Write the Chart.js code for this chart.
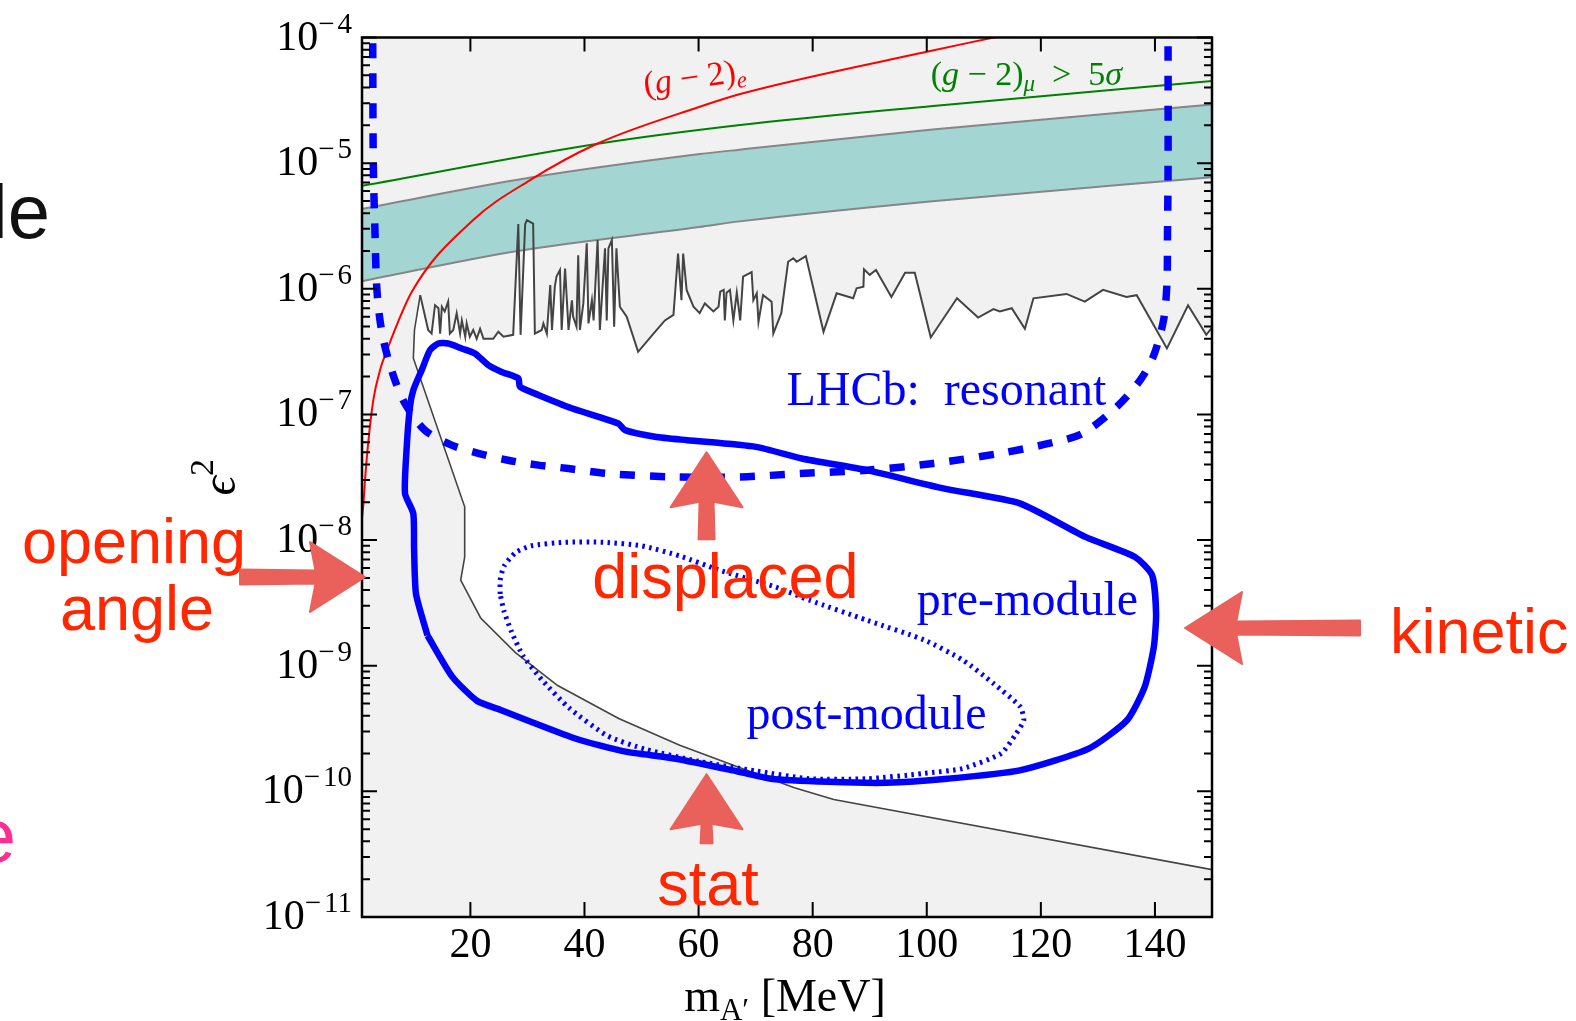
<!DOCTYPE html>
<html>
<head>
    <meta charset="utf-8">
    <title>LHCb dark photon reach</title>
    <script src="https://cdn.jsdelivr.net/npm/chart.js"></script>
    <style>
        html, body { margin: 0; padding: 0; background: #fff; }
        canvas { display: block; }
    </style>
</head>
<body>
    <canvas id="reachChart" width="1576" height="1021"></canvas>
    <script>
        // [m_A' in MeV, eps^2]

        // upper edge of the allowed region (prompt searches)
        const promptLimit = [
            [11.2, 8.9e-7], [12.6, 4.7e-7], [13.2, 4.4e-7], [13.8, 7.4e-7], [14.4, 7.0e-7], [14.7, 4.4e-7],
            [15.0, 7.2e-7], [15.5, 6.6e-7], [16.1, 7.9e-7], [16.4, 4.4e-7], [17.0, 4.7e-7], [17.6, 6.4e-7],
            [18.2, 4.4e-7], [18.5, 5.6e-7], [19.1, 4.15e-7], [19.35, 5.3e-7], [19.9, 4.15e-7], [20.5, 4.7e-7],
            [21.1, 4.0e-7], [21.7, 4.8e-7], [22.3, 4.0e-7], [24.0, 4.0e-7], [24.9, 4.55e-7], [25.8, 4.15e-7],
            [27.5, 4.3e-7], [28.4, 3.27e-6], [28.8, 4.3e-7], [29.6, 3.27e-6], [29.9, 3.52e-6], [31.0, 3.3e-6],
            [31.3, 4.4e-7], [32.5, 4.7e-7], [32.8, 5.3e-7], [33.4, 4.4e-7], [34.0, 1.07e-6], [34.3, 4.7e-7],
            [34.8, 1.04e-6], [35.1, 1.25e-6], [35.7, 1.41e-6], [36.0, 4.7e-7], [36.6, 1.45e-6], [37.2, 4.7e-7],
            [37.8, 8.1e-7], [38.0, 6.0e-7], [38.6, 5.0e-7], [38.9, 1.85e-6], [39.2, 4.7e-7], [39.8, 7.65e-7],
            [40.4, 2.3e-6], [40.7, 5.3e-7], [41.3, 8.1e-7], [41.6, 5.6e-7], [42.3, 2.44e-6], [42.7, 4.7e-7],
            [43.6, 2.1e-6], [43.9, 5.6e-7], [44.2, 2.1e-6], [44.8, 2.44e-6], [45.2, 5.0e-7], [45.6, 2.1e-6],
            [46.2, 7.2e-7], [47.4, 6.0e-7], [49.4, 3.15e-7], [52.1, 4.4e-7], [54.1, 5.6e-7], [55.6, 6.2e-7],
            [56.4, 1.91e-6], [57.0, 8.1e-7], [57.3, 1.91e-6], [57.9, 9.8e-7], [59.1, 7.2e-7], [60.2, 6.4e-7],
            [61.1, 7.65e-7], [62.6, 6.6e-7], [63.5, 7.2e-7], [63.8, 9.5e-7], [64.4, 9.8e-7], [64.6, 5.6e-7],
            [64.9, 9.3e-7], [65.5, 9.8e-7], [66.1, 5.6e-7], [66.7, 9.3e-7], [67.3, 5.6e-7], [67.8, 1.25e-6],
            [69.3, 1.36e-6], [69.6, 8.1e-7], [70.2, 9.2e-7], [70.5, 5.45e-7], [71.3, 8.9e-7], [72.8, 7.9e-7],
            [73.1, 4.4e-7], [74.5, 6.4e-7], [75.7, 1.64e-6], [76.6, 1.75e-6], [77.2, 1.64e-6], [78.8, 1.82e-6],
            [81.9, 4.55e-7], [84.2, 9.2e-7], [87.1, 8.4e-7], [87.7, 1.01e-6], [88.9, 1.04e-6], [89.0, 1.43e-6],
            [90.0, 1.29e-6], [91.1, 1.41e-6], [93.8, 8.6e-7], [96.2, 1.34e-6], [97.9, 1.34e-6], [100.7, 4.1e-7],
            [105.3, 8.4e-7], [109.0, 5.9e-7], [111.7, 6.9e-7], [112.8, 6.6e-7], [114.9, 7.0e-7], [117.2, 4.8e-7],
            [118.7, 8.4e-7], [124.5, 9.1e-7], [127.7, 7.9e-7], [130.9, 9.8e-7], [135.0, 8.6e-7], [136.8, 8.9e-7],
            [142.1, 3.35e-7], [145.8, 7.4e-7], [149.0, 4.3e-7], [150.0, 4.9e-7]
        ];

        // lower edge of the allowed region (beam dumps)
        const beamDump = [
            [11.2, 8.9e-7], [10.2, 4.7e-7], [10.0, 2.8e-7], [19.0, 1.84e-8], [19.0, 7.3e-9], [18.3, 4.8e-9],
            [21.8, 2.4e-9], [27.9, 1.27e-9], [35.3, 6.95e-10], [46.0, 3.8e-10], [56.7, 2.33e-10],
            [66.8, 1.57e-10], [76.8, 1.07e-10], [83.7, 8.6e-11], [150, 2.38e-11]
        ];

        // (g-2)_mu 2 sigma band
        const muonBandHigh = [[1, 4.33e-6], [30.3, 7.64e-6], [60.2, 1.18e-5], [67.2, 1.28e-5], [101, 1.85e-5], [150, 2.93e-5]];
        const muonBandLow = [[1, 1.15e-6], [28, 1.99e-6], [60.1, 3.1e-6], [67.2, 3.44e-6], [101, 4.98e-6], [150, 7.73e-6]];

        const gm2Muon5sigma = [[1, 6.6e-6], [42.1, 1.42e-5], [67.3, 2.01e-5], [101.1, 2.85e-5], [150, 4.5e-5]];

        const gm2Electron = [
            [1.0, 1.5e-8], [1.23, 1.9e-8], [1.53, 3.0e-8], [2.05, 5.7e-8], [2.98, 1.3e-7], [4.16, 2.25e-7],
            [5.38, 3.25e-7], [9.76, 9.5e-7], [20.4, 3.5e-6], [30.4, 7.3e-6], [42.1, 1.42e-5],
            [60.2, 2.81e-5], [67.3, 3.55e-5], [100.0, 7.7e-5], [111.1, 9.86e-5], [116, 1.1e-4]
        ];

        // LHCb resonant search reach
        const lhcbResonant = [
            [2.88, 9.0e-5], [2.98, 1.0e-5], [3.28, 2.77e-6], [3.58, 1.04e-6], [4.16, 5.6e-7], [5.03, 3.45e-7],
            [6.78, 1.87e-7], [8.54, 1.22e-7], [12.0, 7.5e-8], [16.7, 5.7e-8], [21.4, 4.9e-8], [26.6, 4.32e-8],
            [31.9, 3.95e-8], [37.2, 3.71e-8], [43.9, 3.39e-8], [55.6, 3.18e-8], [67.3, 3.18e-8], [77.8, 3.39e-8],
            [89.5, 3.6e-8], [101.1, 4.07e-8], [112.8, 4.9e-8], [121.6, 5.9e-8], [127.4, 7.1e-8], [133.3, 1.15e-7],
            [137.4, 1.87e-7], [139.7, 2.88e-7], [141.5, 5.6e-7], [142.1, 1.1e-6], [142.2, 2.76e-6],
            [142.3, 9.4e-6], [142.3, 8.5e-5]
        ];

        // displaced, pre-module contour (closed)
        const preModule = [
            [12.48, 1.74e-9], [10.47, 3.72e-9], [10.13, 8.45e-9], [9.99, 1.63e-8], [8.54, 2.35e-8], [8.84, 5.52e-8],
            [9.41, 1.15e-7], [9.99, 1.56e-7], [11.46, 2.25e-7], [12.92, 3.25e-7], [14.37, 3.67e-7], [16.13, 3.67e-7],
            [18.48, 3.35e-7], [20.81, 3.06e-7], [23.14, 2.47e-7], [25.49, 2.18e-7], [28.4, 1.94e-7], [28.7, 1.66e-7],
            [31.9, 1.43e-7], [37.76, 1.12e-7], [45.93, 8.48e-8], [47.1, 7.5e-8], [52.36, 6.64e-8], [58.0, 6.24e-8],
            [70.06, 5.52e-8], [78.1, 4.46e-8], [89.5, 3.6e-8], [102.9, 2.58e-8], [116.3, 1.96e-8], [127.8, 1.06e-8],
            [136.5, 7.34e-9], [139.5, 5.25e-9], [140.2, 2.6e-9], [139.8, 1.41e-9], [138.2, 6.78e-10],
            [135.1, 3.68e-10], [128.4, 2.19e-10], [116.3, 1.47e-10], [103.6, 1.26e-10], [92.9, 1.17e-10],
            [82.8, 1.19e-10], [72.7, 1.26e-10], [66.0, 1.47e-10], [56.0, 1.82e-10], [46.7, 2.09e-10],
            [38.65, 2.61e-10], [30.6, 3.58e-10], [25.2, 4.47e-10], [21.2, 5.24e-10], [16.85, 8.15e-10]
        ];

        // displaced, post-module contour (closed)
        const postModule = [
            [25.22, 3.72e-9], [25.22, 4.8e-9], [25.89, 6.2e-9], [27.91, 7.94e-9], [30.6, 9.0e-9], [36.64, 9.6e-9],
            [43.35, 9.6e-9], [50.04, 9.0e-9], [56.76, 7.46e-9], [63.47, 5.8e-9], [73.53, 4.22e-9], [79.46, 3.32e-9],
            [89.52, 2.3e-9], [99.58, 1.6e-9], [106.3, 1.11e-9], [111.7, 7.22e-10], [116.4, 4.7e-10], [117.0, 3.68e-10],
            [115.7, 2.89e-10], [113.0, 2.0e-10], [106.3, 1.52e-10], [99.58, 1.39e-10], [89.52, 1.26e-10],
            [79.46, 1.26e-10], [70.17, 1.45e-10], [60.1, 1.73e-10], [50.73, 2.16e-10], [44.01, 2.77e-10],
            [37.3, 4.61e-10], [32.6, 7.66e-10], [29.26, 1.19e-9], [27.24, 1.85e-9], [25.89, 2.72e-9]
        ];

        const xTicks = [20, 40, 60, 80, 100, 120, 140];
        const yDecades = [-11, -10, -9, -8, -7, -6, -5, -4];

        const SERIF = '"Liberation Serif", "DejaVu Serif", serif';
        const SANS = '"Liberation Sans", Arial, sans-serif';
        const NOTE_RED = '#ff2600';
        const ARROW_PINK = '#ea615b';

        const pts = arr => arr.map(([x, y]) => ({ x, y }));
        const closed = arr => arr.concat([arr[0]]);
        // allowed (white) window: prompt limit on top, beam dump below
        const allowedRegion = promptLimit.concat(beamDump.slice().reverse());

        // draw a row of text pieces, each with its own font and vertical shift
        function drawRuns(ctx, x, y, runs, align) {
            let total = 0;
            runs.forEach(r => { ctx.font = r.font; r.w = ctx.measureText(r.t).width + (r.gap || 0); total += r.w; });
            let cx = align === 'center' ? x - total / 2 : align === 'right' ? x - total : x;
            ctx.textAlign = 'left';
            ctx.textBaseline = 'alphabetic';
            runs.forEach(r => { ctx.font = r.font; ctx.fillText(r.t, cx, y + (r.dy || 0)); cx += r.w; });
        }

        function arrow(ctx, tipX, tipY, angle, head, headHalf, shaft, shaftHalf) {
            ctx.save();
            ctx.translate(tipX, tipY);
            ctx.rotate(angle);
            ctx.beginPath();
            ctx.moveTo(0, 0);
            ctx.lineTo(-head, -headHalf);
            ctx.lineTo(-head * 0.9, -shaftHalf);
            ctx.lineTo(-head - shaft, -shaftHalf - 1);
            ctx.lineTo(-head - shaft, shaftHalf + 1);
            ctx.lineTo(-head * 0.9, shaftHalf);
            ctx.lineTo(-head, headHalf);
            ctx.closePath();
            ctx.fillStyle = ARROW_PINK;
            ctx.strokeStyle = ARROW_PINK;
            ctx.lineWidth = 2;
            ctx.lineJoin = 'round';
            ctx.fill();
            ctx.stroke();
            ctx.restore();
        }

        const frame = {
            id: 'frame',
            beforeDatasetsDraw(chart) {
                const { ctx, chartArea: a } = chart;
                ctx.save();
                ctx.fillStyle = '#f1f1f1';
                ctx.fillRect(a.left, a.top, a.right - a.left, a.bottom - a.top);
                ctx.restore();
            },
            afterDraw(chart) {
                const { ctx, chartArea: a } = chart;
                const xs = chart.scales.x, ys = chart.scales.y;
                ctx.save();
                ctx.strokeStyle = '#000';
                ctx.fillStyle = '#000';

                // ticks, inward on all four sides
                ctx.lineWidth = 2;
                ctx.beginPath();
                yDecades.forEach(e => {
                    const py = ys.getPixelForValue(Math.pow(10, e));
                    ctx.moveTo(a.left, py); ctx.lineTo(a.left + 15, py);
                    ctx.moveTo(a.right, py); ctx.lineTo(a.right - 15, py);
                    if (e < -4) {
                        for (let k = 2; k <= 9; k++) {
                            const pm = ys.getPixelForValue(k * Math.pow(10, e));
                            ctx.moveTo(a.left, pm); ctx.lineTo(a.left + 8, pm);
                            ctx.moveTo(a.right, pm); ctx.lineTo(a.right - 8, pm);
                        }
                    }
                });
                xTicks.forEach(v => {
                    const px = xs.getPixelForValue(v);
                    ctx.moveTo(px, a.bottom); ctx.lineTo(px, a.bottom - 15);
                    ctx.moveTo(px, a.top); ctx.lineTo(px, a.top + 14);
                });
                ctx.stroke();

                ctx.lineWidth = 2.5;
                ctx.strokeRect(a.left, a.top, a.right - a.left, a.bottom - a.top);

                // tick labels
                yDecades.forEach(e => {
                    const py = ys.getPixelForValue(Math.pow(10, e));
                    drawRuns(ctx, a.left - 10, py + 12, [
                        { t: '10', font: '42px ' + SERIF },
                        { t: '\u2212', font: '29px ' + SERIF, dy: -17, gap: 3 },
                        { t: String(Math.abs(e)), font: '29px ' + SERIF, dy: -17 }
                    ], 'right');
                });
                ctx.font = '42px ' + SERIF;
                ctx.textAlign = 'center';
                xTicks.forEach(v => ctx.fillText(String(v), xs.getPixelForValue(v), a.bottom + 40));

                // axis titles
                drawRuns(ctx, (a.left + a.right) / 2 - 2, a.bottom + 94, [
                    { t: 'm', font: '46px ' + SERIF },
                    { t: 'A\u2032', font: '31px ' + SERIF, dy: 9 },
                    { t: ' [MeV]', font: '46px ' + SERIF }
                ], 'center');
                ctx.save();
                ctx.translate(a.left - 127, (a.top + a.bottom) / 2);
                ctx.rotate(-Math.PI / 2);
                drawRuns(ctx, 0, 0, [
                    { t: '\u03f5', font: 'italic 48px ' + SERIF },
                    { t: '2', font: '34px ' + SERIF, dy: -22 }
                ], 'center');
                ctx.restore();

                // curve labels, placed in data coordinates
                const at = (m, e2) => [xs.getPixelForValue(m), ys.getPixelForValue(e2)];
                ctx.fillStyle = '#ff0000';
                ctx.save();
                const [ex, ey] = at(50.6, 3.48e-5);
                ctx.translate(ex, ey);
                ctx.rotate(-8 * Math.PI / 180);
                drawRuns(ctx, 0, 0, [
                    { t: '(', font: '34px ' + SERIF },
                    { t: 'g', font: 'italic 34px ' + SERIF },
                    { t: ' \u2212 2)', font: '34px ' + SERIF },
                    { t: 'e', font: 'italic 23px ' + SERIF, dy: 6 }
                ], 'left');
                ctx.restore();

                ctx.fillStyle = '#008000';
                const [mx, my] = at(100.7, 4.15e-5);
                drawRuns(ctx, mx, my, [
                    { t: '(', font: '34px ' + SERIF },
                    { t: 'g', font: 'italic 34px ' + SERIF },
                    { t: ' \u2212 2)', font: '34px ' + SERIF },
                    { t: '\u03bc', font: 'italic 23px ' + SERIF, dy: 6 },
                    { t: '  >  5', font: '34px ' + SERIF },
                    { t: '\u03c3', font: 'italic 34px ' + SERIF }
                ], 'left');

                ctx.fillStyle = '#0000ff';
                ctx.font = '48px ' + SERIF;
                ctx.textAlign = 'left';
                let [lx, ly] = at(75.4, 1.19e-7);
                ctx.fillText('LHCb:  resonant', lx, ly);
                [lx, ly] = at(98.25, 2.52e-9);
                ctx.fillText('pre-module', lx, ly);
                [lx, ly] = at(68.4, 3.16e-10);
                ctx.fillText('post-module', lx, ly);

                // slide annotations
                ctx.fillStyle = NOTE_RED;
                ctx.font = '63px ' + SANS;
                ctx.textAlign = 'center';
                ctx.fillText('opening', a.left - 228, a.top + 525.5);
                ctx.fillText('angle', a.left - 225, a.top + 592.5);
                [lx, ly] = at(64.7, 3.43e-9);
                ctx.fillText('displaced', lx, ly);
                [lx, ly] = at(61.65, 1.24e-11);
                ctx.fillText('stat', lx, ly);
                ctx.textAlign = 'left';
                ctx.fillText('kinetic', a.right + 178, a.top + 615.5);

                ctx.font = '76px ' + SANS;
                ctx.textAlign = 'right';
                ctx.fillStyle = '#111';
                ctx.fillText('le', a.left - 312, a.top + 200.5);
                ctx.fillStyle = '#ff2d92';
                ctx.fillText('e', a.left - 346, a.top + 824.5);

                arrow(ctx, a.left + 3, a.top + 539.5, 0, 55, 35, 70, 6.5);
                arrow(ctx, a.right - 27, a.top + 590.5, Math.PI, 57, 36, 118, 6.5);
                let [ax, ay] = at(61.4, 5.0e-8);
                arrow(ctx, ax, ay, -Math.PI / 2, 55, 36, 32, 7);
                [ax, ay] = at(61.4, 1.37e-10);
                arrow(ctx, ax, ay, -Math.PI / 2, 55, 36, 14, 5);

                ctx.restore();
            }
        };

        const ctx = document.getElementById('reachChart').getContext('2d');
        const chart = new Chart(ctx, {
            type: 'line',
            data: {
                datasets: [{
                    label: 'LHCb: resonant',
                    data: pts(lhcbResonant),
                    borderColor: '#0000ff',
                    borderWidth: 7.5,
                    borderDash: [15, 15],
                    tension: 0.3,
                    order: 0
                }, {
                    label: 'pre-module',
                    data: pts(closed(preModule)),
                    borderColor: '#0000ff',
                    borderWidth: 6.5,
                    borderJoinStyle: 'round',
                    tension: 0.2,
                    order: 0
                }, {
                    label: 'post-module',
                    data: pts(closed(postModule)),
                    borderColor: '#0000ff',
                    borderWidth: 5,
                    borderDash: [2.5, 4.5],
                    tension: 0.2,
                    order: 0
                }, {
                    label: '(g-2)e',
                    data: pts(gm2Electron),
                    borderColor: '#ff0000',
                    borderWidth: 2,
                    cubicInterpolationMode: 'monotone',
                    order: 1
                }, {
                    label: '(g-2)mu > 5 sigma',
                    data: pts(gm2Muon5sigma),
                    borderColor: '#008000',
                    borderWidth: 2,
                    cubicInterpolationMode: 'monotone',
                    order: 1
                }, {
                    label: 'prompt limit',
                    data: pts(promptLimit),
                    borderColor: '#444444',
                    borderWidth: 2,
                    order: 2
                }, {
                    label: 'beam dump',
                    data: pts(beamDump),
                    borderColor: '#444444',
                    borderWidth: 1.6,
                    order: 2
                }, {
                    label: '(g-2)mu band',
                    data: pts(muonBandHigh),
                    borderColor: '#868686',
                    borderWidth: 2,
                    backgroundColor: '#a3d6d2',
                    fill: '+1',
                    cubicInterpolationMode: 'monotone',
                    order: 3
                }, {
                    label: '(g-2)mu band low',
                    data: pts(muonBandLow),
                    borderColor: '#868686',
                    borderWidth: 2,
                    cubicInterpolationMode: 'monotone',
                    order: 2
                }, {
                    label: 'allowed',
                    data: pts(allowedRegion),
                    borderColor: 'transparent',
                    borderWidth: 0,
                    backgroundColor: '#ffffff',
                    fill: 'shape',
                    order: 5
                }]
            },
            options: {
                responsive: false,
                animation: false,
                devicePixelRatio: 1,
                layout: { padding: { left: 362, right: 364, top: 37.5, bottom: 104 } },
                elements: { point: { radius: 0, hoverRadius: 0 } },
                datasets: { line: { clip: 0 } },
                scales: {
                    x: { type: 'linear', min: 1, max: 150, display: false },
                    y: { type: 'logarithmic', min: 1e-11, max: 1e-4, display: false }
                },
                plugins: {
                    legend: { display: false },
                    tooltip: { enabled: false }
                }
            },
            plugins: [frame]
        });
    </script>
</body>
</html>
